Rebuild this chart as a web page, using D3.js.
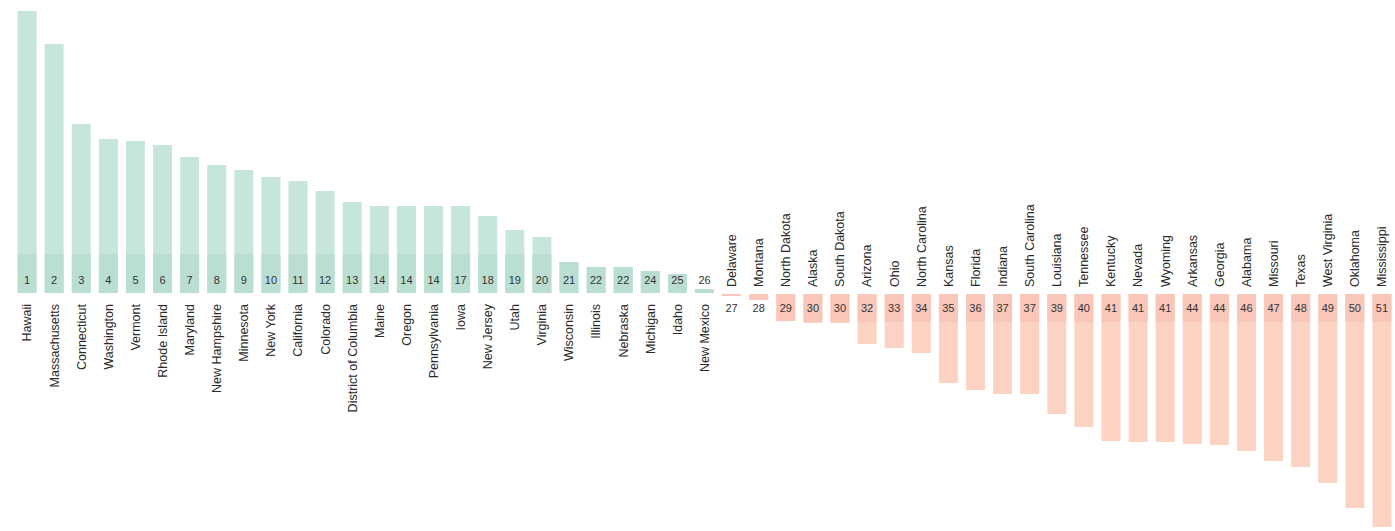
<!DOCTYPE html>
<html>
<head>
<meta charset="utf-8">
<script src="https://d3js.org/d3.v7.min.js"></script>
<style>
  body { margin: 0; background: #fff; }
  svg { display: block; font-family: "Liberation Sans", Arial, sans-serif; }
</style>
</head>
<body>
<svg id="svg"></svg>
<script>
// states in rank order
const states = ["Hawaii", "Massachusetts", "Connecticut", "Washington", "Vermont", "Rhode Island",
  "Maryland", "New Hampshire", "Minnesota", "New York", "California", "Colorado",
  "District of Columbia", "Maine", "Oregon", "Pennsylvania", "Iowa", "New Jersey", "Utah",
  "Virginia", "Wisconsin", "Illinois", "Nebraska", "Michigan", "Idaho", "New Mexico",
  "Delaware", "Montana", "North Dakota", "Alaska", "South Dakota", "Arizona", "Ohio",
  "North Carolina", "Kansas", "Florida", "Indiana", "South Carolina", "Louisiana", "Tennessee",
  "Kentucky", "Nevada", "Wyoming", "Arkansas", "Georgia", "Alabama", "Missouri", "Texas",
  "West Virginia", "Oklahoma", "Mississippi"];

const ranks = [1, 2, 3, 4, 5, 6, 7, 8, 9, 10, 11, 12, 13, 14, 14, 14, 17, 18, 19, 20, 21, 22, 22,
  24, 25, 26, 27, 28, 29, 30, 30, 32, 33, 34, 35, 36, 37, 37, 39, 40, 41, 41, 41, 44, 44, 46,
  47, 48, 49, 50, 51];

// score relative to the middle
const scores = [282, 249, 169, 154, 152, 148, 136, 128, 123, 116, 112, 102, 91, 87, 87, 87, 87,
  77, 63, 56, 31, 26, 26, 22, 19, 4,
  -2, -6, -27, -29, -29, -50, -54, -59, -89, -96, -100, -100, -120, -133, -147, -148, -148,
  -150, -151, -157, -167, -173, -189, -214, -233];

const data = states.map((s, i) => ({ state: s, rank: ranks[i], score: scores[i] }));

const width = 1395, height = 531;
const boxTop = 39, boxBottom = 28;

const svg = d3.select("#svg").attr("width", width).attr("height", height);

const x = d3.scaleBand()
  .domain(states)
  .range([13.5, 1395.5])
  .paddingInner(0.3)
  .paddingOuter(0.15);

const y = d3.scaleLinear()
  .domain([-240, 285])
  .range([533, 8]);

const y0 = y(0);
const barH = d => Math.abs(y(d.score) - y0);
const boxH = d => Math.min(barH(d), d.score > 0 ? boxTop : boxBottom);

const bar = svg.selectAll("g.bar")
  .data(data)
  .enter()
  .append("g")
  .attr("class", "bar");

// main bar
bar.append("rect")
  .attr("x", d => x(d.state))
  .attr("width", x.bandwidth())
  .attr("y", d => d.score > 0 ? y(d.score) : y0 + 1)
  .attr("height", barH)
  .attr("fill", d => d.score > 0 ? "#c6e5db" : "#fcd3c3");

// darker part under the rank number
bar.append("rect")
  .attr("x", d => x(d.state))
  .attr("width", x.bandwidth())
  .attr("y", d => d.score > 0 ? y0 - boxH(d) : y0 + 1)
  .attr("height", boxH)
  .attr("fill", d => d.score > 0 ? "#badfd2" : "#f9c7ba");

bar.append("text")
  .attr("x", d => x(d.state) + x.bandwidth() / 2)
  .attr("y", d => d.score > 0 ? y0 - 13 : y0 + 15)
  .attr("dy", ".35em")
  .attr("text-anchor", "middle")
  .attr("font-size", 11)
  .attr("fill", "#333")
  .text(d => d.rank);

bar.append("text")
  .attr("transform", d => {
    const cx = x(d.state) + x.bandwidth() / 2;
    const ty = d.score > 0 ? y0 + 11 : y0 - 6;
    return `translate(${cx},${ty}) rotate(-90)`;
  })
  .attr("dy", ".35em")
  .attr("text-anchor", d => d.score > 0 ? "end" : "start")
  .attr("font-size", 12.5)
  .attr("fill", "#2a2a2a")
  .text(d => d.state);
</script>
</body>
</html>
